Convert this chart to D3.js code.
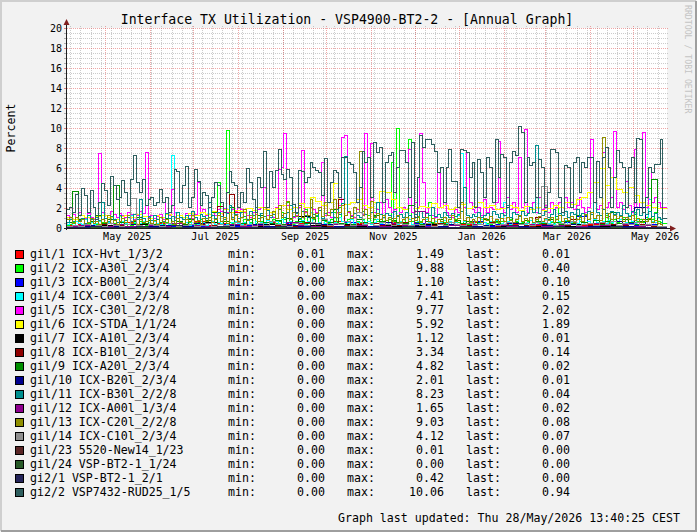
<!DOCTYPE html>
<html>
<head>
<meta charset="utf-8">
<script src="https://cdn.jsdelivr.net/npm/d3@7"></script>
<style>
body { margin: 0; background: #f2f2f2; }
text { font-family: "DejaVu Sans Mono", monospace; }
</style>
</head>
<body>
<svg width="697" height="532"></svg>
<script>
// interface names, legend order (drawn in this order, last on top)
let names = [
	"gil/1 ICX-Hvt_1/3/2", "gil/2 ICX-A30l_2/3/4", "gil/3 ICX-B00l_2/3/4",
	"gil/4 ICX-C00l_2/3/4", "gil/5 ICX-C30l_2/2/8", "gil/6 ICX-STDA_1/1/24",
	"gil/7 ICX-A10l_2/3/4", "gil/8 ICX-B10l_2/3/4", "gil/9 ICX-A20l_2/3/4",
	"gil/10 ICX-B20l_2/3/4", "gil/11 ICX-B30l_2/2/8", "gil/12 ICX-A00l_1/3/4",
	"gil/13 ICX-C20l_2/2/8", "gil/14 ICX-C10l_2/3/4", "gil/23 5520-New14_1/23",
	"gil/24 VSP-BT2-1_1/24", "gi2/1 VSP-BT2-1_2/1", "gi2/2 VSP7432-RUD25_1/5"
];
let colors = ["#ff0000", "#00ff00", "#0000ff", "#00ffff", "#ff00ff", "#ffff00",
	"#000000", "#8f0000", "#008f00", "#00008f", "#008f8f", "#8f008f",
	"#8f8f00", "#8f8f8f", "#5a2626", "#285a28", "#24245a", "#2e5e5e"];

// legend statistics as printed
let mins = [0.01, 0.00, 0.00, 0.00, 0.00, 0.00, 0.00, 0.00, 0.00, 0.00, 0.00, 0.00, 0.00, 0.00, 0.00, 0.00, 0.00, 0.00];
let maxs = [1.49, 9.88, 1.10, 7.41, 9.77, 5.92, 1.12, 3.34, 4.82, 2.01, 8.23, 1.65, 9.03, 4.12, 0.01, 0.00, 0.42, 10.06];
let lasts = [0.01, 0.40, 0.10, 0.15, 2.02, 1.89, 0.01, 0.14, 0.02, 0.01, 0.04, 0.02, 0.08, 0.07, 0.00, 0.00, 0.00, 0.94];

// consolidation step (days per value) of each series
let steps = [8, 2, 8, 2, 2, 4, 8, 4, 4, 8, 2, 8, 2, 4, 8, 8, 8, 2];

// percent values
let gi1_1 = [0.2,0.3,0.1,0.4,0.2,0.5,0.3,0.2,0.4,0.1, 0.3,0.6,0.2,0.4,1.49,0.3,0.2,0.5,0.3,0.1,
	0.4,0.2,0.3,0.6,0.2,0.4,0.1,0.3,0.5,0.2, 0.3,0.1,0.4,0.2,0.3,0.5,0.2,0.1,0.3,0.4,
	0.2,0.3,0.1,0.5,0.2,0.3,0.4,0.2,0.1,0.3, 0.2,0.01];
let gi1_2 = [0.2,0.3,0.5,0.2,0.1,0.3,0.2,0.4,0.2,0.1, 0.3,0.2,0.5,0.3,0.2,0.1,0.4,0.2,0.3,0.2,
	0.1,0.3,0.2,0.4,0.2,0.6,0.3,0.2,0.1,0.3, 0.2,0.4,0.2,0.3,0.5,0.2,0.3,0.1,0.2,0.4,
	0.3,0.2,0.5,0.2,0.3,0.2,0.8,0.3,0.2,0.4, 0.5,0.8,4.5,0.6,0.3,9.7,0.5,0.4,0.3,0.6,
	0.4,0.8,0.3,0.5,1.2,0.4,0.3,0.6,0.5,0.3, 0.5,0.8,0.4,0.6,1.5,0.8,2.5,0.5,0.3,0.6,
	0.8,0.5,1.8,0.6,0.4,0.8,1.2,0.5,0.3,0.6, 0.4,0.8,1.5,0.5,2.0,0.6,0.4,0.8,0.5,0.3,
	0.6,0.5,0.8,0.4,1.2,0.5,0.8,0.6,0.4,1.0, 0.5,0.8,6.5,0.6,9.88,0.5,0.8,0.4,8.8,0.6,
	0.5,1.0,0.6,0.4,0.8,2.5,0.5,0.6,0.3,0.8, 0.5,0.4,0.6,0.3,0.8,0.5,0.4,0.6,0.3,0.5,
	0.4,0.6,0.3,0.8,0.5,0.4,0.3,0.6,0.5,0.4, 0.6,0.3,0.5,0.8,0.4,0.6,0.3,0.5,0.4,0.6,
	0.3,0.5,0.8,0.4,0.6,0.3,1.0,0.5,0.4,2.0, 0.5,0.4,0.6,0.3,0.8,0.5,0.4,0.6,0.3,0.5,
	0.6,0.4,0.8,0.5,0.3,0.6,1.2,0.5,0.4,0.8, 0.5,0.6,1.0,0.4,0.8,0.5,1.5,0.6,0.8,0.5,
	1.0,3.9,0.8,1.5,0.6,0.5,0.40,0.40];
let gi1_3 = [0.1,0.0,0.2,0.1,0.0,0.3,0.1,0.2,0.0,0.1, 0.2,0.1,0.0,0.3,0.1,0.2,0.1,0.0,0.2,0.4,
	0.1,0.2,0.3,0.1,0.5,0.2,0.1,0.3,0.2,0.1, 0.4,0.2,0.1,0.3,0.2,0.6,0.1,0.3,0.2,0.4,
	0.1,0.3,0.2,0.5,1.10,0.2,0.3,0.1,0.4,0.2, 0.3,0.10];
let gi1_4 = [0.3,0.5,0.2,0.6,0.4,0.3,0.8,0.2,0.5,0.3, 0.4,0.6,0.3,0.2,0.5,0.4,0.8,0.3,0.2,0.6,
	0.4,0.3,1.2,0.5,0.2,0.4,0.6,0.3,0.5,0.2, 0.6,0.4,0.3,0.5,0.8,0.3,7.2,1.5,0.4,0.6,
	0.3,0.5,0.2,0.8,0.4,0.3,0.6,0.5,0.2,0.4, 0.6,0.3,0.5,0.4,0.8,0.3,0.2,0.5,0.6,0.4,
	0.3,0.5,0.8,0.4,0.2,0.6,0.3,0.5,0.4,0.7, 0.5,0.3,0.6,0.4,0.8,0.5,0.3,0.6,0.4,0.2,
	0.5,0.7,0.3,0.6,1.5,0.4,0.3,0.5,0.8,0.4, 0.6,0.3,0.5,0.4,1.0,0.6,0.3,0.5,0.8,0.4,
	0.5,0.3,0.7,0.4,0.6,0.3,0.5,0.8,0.4,0.6, 0.3,0.5,0.4,0.7,0.3,0.6,0.5,0.4,0.8,0.3,
	0.5,0.6,0.4,0.3,0.8,0.5,0.4,0.6,0.3,0.5, 0.7,0.4,0.6,0.3,0.5,1.2,7.41,0.6,0.4,0.5,
	0.3,0.6,0.4,0.8,0.5,0.3,0.6,0.4,0.7,0.5, 0.4,2.5,0.6,0.3,0.5,0.8,0.4,0.6,0.3,0.5,
	0.7,0.4,0.6,0.3,0.5,0.8,0.4,0.6,0.3,0.5, 0.6,0.4,0.7,0.3,0.5,0.6,0.4,0.8,0.3,0.5,
	0.6,0.4,0.8,0.5,0.3,0.6,0.4,0.7,0.5,0.3, 0.6,0.8,0.4,0.5,1.2,0.6,0.4,0.8,0.5,0.6,
	0.8,2.8,0.6,0.5,0.4,0.3,0.15,0.15];
let gi1_5 = [1.2,1.0,1.3,0.8,1.5,1.2,0.9,1.4,1.0,0.8, 1.2,7.4,1.5,1.2,1.0,1.6,1.3,1.0,1.4,1.2,
	1.0,1.5,1.3,0.8,1.2,1.6,1.4,7.5,1.0,1.2, 0.9,1.1,1.3,0.8,3.0,1.2,3.8,1.0,1.5,1.2,
	1.0,1.4,1.2,0.9,1.3,4.5,1.5,1.8,1.2,1.0, 1.5,1.2,1.8,1.6,1.9,1.5,2.0,1.8,1.6,2.0,
	1.8,1.5,1.2,1.0,1.5,1.3,1.8,2.0,4.0,1.2, 1.5,1.0,2.0,5.8,6.0,9.4,2.2,1.8,1.0,1.2,
	2.0,7.7,1.5,1.2,1.0,1.8,1.5,2.0,6.5,1.2, 1.5,1.0,1.8,1.5,2.2,9.0,9.2,1.5,1.2,1.0,
	1.8,1.5,1.3,9.4,2.0,8.4,1.5,1.8,2.5,1.2, 2.8,2.0,1.5,1.8,1.2,1.5,2.0,1.8,7.8,1.5,
	2.5,2.0,9.4,4.5,1.5,2.0,1.2,1.0,5.5,2.0, 2.5,1.5,1.2,1.0,1.8,1.5,2.5,2.0,7.5,2.5,
	1.8,1.5,2.0,1.2,2.8,1.5,2.0,1.8,2.5,8.6, 2.0,1.5,3.0,1.8,2.5,1.5,7.0,2.0,9.77,1.5,
	2.0,2.5,1.5,3.0,1.8,2.2,1.5,2.5,1.8,2.0, 2.5,1.5,3.0,2.0,2.5,1.8,2.2,3.0,2.0,1.5,
	2.0,8.8,2.5,1.8,2.2,7.5,2.0,2.5,3.0,9.6, 2.0,2.5,1.8,4.6,2.2,1.5,7.8,2.0,2.5,9.5,
	2.0,6.0,2.5,3.0,2.5,2.0,2.02,2.02];
let gi1_6 = [1.0,0.8,1.2,1.0,0.9,1.1,1.2,1.0,0.8,1.1, 1.2,1.0,1.3,1.1,0.9,1.2,1.0,1.3,1.1,1.2,
	1.0,1.4,1.2,1.5,1.3,1.6,1.4,1.8,1.5,1.7, 1.6,1.9,1.7,2.0,1.8,1.5,1.9,2.2,1.8,2.0,
	2.4,2.0,3.0,2.6,2.2,2.5,4.4,2.8,2.3,2.5, 2.8,2.2,2.0,2.5,3.6,3.5,2.8,2.0,1.8,2.2,
	1.9,2.1,2.0,2.4,2.0,2.2,1.8,2.0,2.3,1.9, 2.1,2.5,2.0,2.2,1.8,1.9,2.2,2.0,1.7,2.1,
	1.8,2.0,1.7,1.9,2.2,2.0,2.5,2.3,2.8,3.0, 3.5,4.5,5.92,4.2,5.0,3.8,3.5,4.0,3.2,2.5,
	2.2,2.0,1.89,1.89];
let gi1_7 = [0.0,0.1,0.0,0.2,0.1,0.0,0.3,0.1,0.0,0.2, 0.1,0.0,0.5,0.1,0.2,0.0,0.1,0.3,0.0,0.1,
	1.12,0.2,0.1,0.0,0.3,0.1,0.0,0.2,0.1,0.0, 0.1,0.3,0.0,0.2,0.1,0.0,0.2,0.1,0.4,0.0,
	0.1,0.2,0.0,0.1,0.3,0.0,0.1,0.2,0.0,0.1, 0.0,0.01];
let gi1_8 = [0.1,0.0,0.2,0.1,0.0,0.1,0.3,0.1,0.0,0.2, 0.1,0.0,0.2,0.1,0.3,0.0,0.1,0.2,0.0,0.1,
	0.2,0.1,0.0,0.3,0.1,0.2,2.1,0.1,3.34,0.2, 0.1,0.3,0.0,0.2,0.1,0.4,0.2,0.1,0.3,0.1,
	0.2,0.5,0.1,0.3,0.2,0.1,0.4,2.8,0.2,0.1, 0.3,0.2,0.1,0.4,0.2,0.1,0.3,0.2,0.5,0.1,
	0.2,0.3,0.1,0.2,0.4,0.1,0.2,0.3,0.1,0.2, 0.3,0.1,0.2,0.5,0.1,0.3,0.2,0.1,0.4,0.2,
	0.1,1.0,0.3,0.2,0.1,0.4,0.2,0.8,0.1,0.3, 0.2,0.1,0.4,0.2,0.3,0.1,0.2,0.5,0.1,0.3,
	0.2,0.1,0.14,0.14];
let gi1_9 = [0.5,3.6,0.8,0.3,0.6,1.2,0.4,0.8,4.2,0.5, 0.3,0.6,1.0,0.4,0.7,0.3,0.5,0.9,0.4,0.6,
	0.3,0.8,0.5,0.4,0.7,1.5,0.3,0.6,2.0,0.5, 0.4,0.8,0.3,1.2,0.5,0.4,0.7,0.3,0.9,0.5,
	0.6,0.4,1.0,0.3,0.7,0.5,1.8,0.4,0.6,0.3, 0.8,0.5,0.4,1.2,0.6,0.3,0.7,0.5,0.4,2.2,
	0.5,0.3,0.6,0.4,0.8,0.3,0.5,0.7,0.4,0.6, 0.3,0.5,0.8,0.4,0.6,0.3,1.0,0.5,0.4,0.7,
	0.3,0.6,0.4,0.8,0.5,0.3,0.6,0.4,1.2,0.5, 0.4,0.7,0.3,0.6,1.5,0.4,0.8,0.5,0.3,0.6,
	0.8,4.82,0.02,0.02];
let gi1_10 = [0.0,0.1,0.2,0.0,0.1,0.3,0.0,0.1,0.2,0.0, 0.1,0.4,0.0,0.1,0.2,0.0,0.3,0.1,0.0,0.2,
	0.1,0.0,0.3,0.1,0.0,0.2,0.1,0.5,0.0,0.1, 0.2,0.0,0.1,0.3,0.0,0.1,0.2,0.0,0.4,0.1,
	0.0,0.2,0.1,0.3,0.0,0.1,0.2,0.6,0.1,2.01, 0.2,0.01];
let gi1_11 = [0.5,0.8,0.6,1.0,0.7,0.9,0.4,1.2,0.8,0.6, 1.0,0.7,2.5,0.9,0.6,1.1,0.8,0.5,1.2,0.9,
	0.7,1.0,0.6,1.3,0.8,2.8,0.9,0.6,1.1,0.7, 1.2,0.8,1.0,0.6,1.4,0.9,1.1,0.7,1.5,1.0,
	0.8,1.2,0.9,1.6,1.0,0.7,1.3,1.1,0.9,2.5, 1.2,0.9,1.5,1.1,0.8,1.4,2.2,1.0,1.3,0.9,
	1.5,1.1,0.8,1.6,1.2,2.0,0.9,1.4,1.1,1.7, 1.0,1.3,0.9,1.8,1.2,1.0,1.5,2.2,1.1,1.4,
	0.9,1.6,1.2,1.0,2.0,1.3,1.1,1.7,0.9,1.4, 1.2,1.5,1.0,1.8,1.3,2.4,7.1,1.6,1.1,1.4,
	1.2,1.0,1.6,1.3,0.9,1.5,1.1,2.5,1.3,1.0, 1.4,1.2,0.9,1.6,1.1,1.3,1.0,1.5,1.2,0.9,
	1.3,1.1,1.6,1.0,1.4,1.2,2.0,1.1,1.3,1.0, 1.5,1.2,1.0,1.4,1.1,1.3,1.6,4.0,1.2,1.0,
	1.3,1.1,1.5,1.0,1.2,1.4,1.1,1.6,1.3,1.0, 1.4,1.2,2.2,1.0,1.5,1.3,1.1,1.6,1.2,1.4,
	2.0,1.5,8.23,1.4,1.2,1.6,1.0,1.3,1.8,1.1, 1.4,1.2,1.6,1.0,1.5,1.3,1.8,1.1,1.4,1.2,
	1.6,1.3,2.5,1.5,1.2,1.8,1.4,1.1,1.6,1.3, 1.5,1.2,2.2,1.4,1.1,1.6,1.3,1.8,1.2,1.5,
	1.3,1.6,1.1,1.4,1.0,0.8,0.04,0.04];
let gi1_12 = [0.1,0.2,0.0,0.1,0.3,0.1,0.0,0.2,0.1,0.4, 0.0,0.2,0.1,0.0,0.3,0.1,0.2,0.0,0.1,0.5,
	0.2,0.1,0.0,0.3,0.1,0.2,0.0,0.1,0.4,0.2, 1.65,0.1,0.0,0.2,0.1,0.3,0.0,0.2,0.1,0.0,
	0.3,0.1,0.2,0.0,0.1,0.4,0.2,0.1,0.3,0.1, 0.2,0.02];
let gi1_13 = [0.8,1.0,0.4,1.0,0.6,0.8,0.3,0.5,0.9,0.4, 0.6,0.3,0.8,0.5,1.2,0.4,0.7,0.3,0.6,0.9,
	0.5,1.2,0.4,0.7,0.3,0.8,0.5,0.6,0.9,0.4, 0.7,0.3,1.0,0.5,0.8,0.4,0.6,0.3,0.9,0.5,
	0.4,0.8,0.6,1.2,0.5,0.7,0.3,0.9,0.6,1.0, 0.5,0.8,1.2,0.6,1.0,0.4,1.5,0.8,1.2,0.6,
	1.0,1.8,0.7,1.2,0.9,1.5,0.6,1.0,2.0,0.8, 1.2,1.6,0.9,2.2,1.0,1.4,2.6,0.8,1.5,1.1,
	2.2,1.0,1.6,1.2,2.8,0.9,1.4,2.0,1.1,2.5, 1.2,1.8,2.8,1.0,1.5,2.2,1.2,1.6,0.9,2.0,
	1.5,7.6,1.2,1.8,0.9,2.6,1.0,1.4,0.8,1.2, 0.7,1.0,0.6,0.9,1.2,0.5,0.8,1.0,0.6,0.9,
	0.7,1.1,0.5,0.8,1.0,0.6,0.9,0.4,0.8,0.6, 1.0,0.5,0.8,1.2,0.6,0.9,2.5,0.7,1.0,0.5,
	0.8,0.6,1.0,0.5,0.9,0.7,1.1,0.6,0.8,0.5, 0.9,0.6,1.0,0.7,0.5,0.8,1.2,0.6,0.9,0.7,
	1.0,0.5,0.8,1.1,0.6,0.9,0.7,1.0,0.5,0.8, 1.2,0.6,0.9,0.7,1.1,0.5,0.8,1.0,0.6,1.3,
	0.8,1.5,0.9,1.2,0.7,9.03,1.0,1.4,0.8,1.2, 0.9,1.1,0.6,1.0,0.8,1.2,0.7,0.9,0.5,0.8,
	0.6,0.9,0.5,0.7,0.4,0.3,0.08,0.08];
let gi1_14 = [0.1,0.2,0.1,0.3,0.1,0.2,0.1,0.4,0.2,0.1, 0.3,2.9,0.2,0.1,0.3,0.2,0.1,0.4,0.2,0.1,
	0.2,0.3,0.1,0.2,0.4,0.1,0.3,0.2,0.1,0.5, 0.2,0.3,0.1,0.4,0.2,0.6,0.3,0.2,0.1,0.4,
	0.3,0.2,0.5,0.3,0.8,0.2,0.4,0.3,0.6,0.2, 1.5,0.3,0.4,0.2,0.5,0.3,0.2,0.4,0.3,0.2,
	0.3,0.2,0.4,0.1,0.3,0.2,0.5,0.3,0.2,0.4, 0.2,0.3,0.1,0.4,0.2,0.3,0.5,0.2,0.3,0.4,
	0.2,0.5,4.12,0.3,0.2,0.4,0.3,0.6,0.2,0.3, 0.4,0.2,0.5,0.3,0.6,0.2,0.4,0.3,0.5,0.2,
	0.3,0.2,0.07,0.07];
let gi1_23 = [0.00,0.00,0.01,0.00,0.00,0.00,0.00,0.01,0.00,0.00, 0.00,0.00,0.00,0.00,0.01,0.00,0.00,0.00,0.00,0.00,
	0.00,0.01,0.00,0.00,0.00,0.00,0.00,0.00,0.01,0.00, 0.00,0.00,0.00,0.00,0.00,0.01,0.00,0.00,0.00,0.00,
	0.00,0.00,0.01,0.00,0.00,0.00,0.00,0.00,0.00,0.00, 0.00,0.00];
let gi1_24 = [0,0,0,0,0,0,0,0,0,0, 0,0,0,0,0,0,0,0,0,0, 0,0,0,0,0,0,0,0,0,0,
	0,0,0,0,0,0,0,0,0,0, 0,0,0,0,0,0,0,0,0,0, 0,0];
let gi2_1 = [0.0,0.0,0.1,0.0,0.0,0.0,0.1,0.0,0.0,0.2, 0.0,0.0,0.0,0.1,0.0,0.0,0.0,0.0,0.1,0.0,
	0.0,0.42,0.0,0.0,0.1,0.0,0.0,0.0,0.0,0.1, 0.0,0.0,0.0,0.0,0.1,0.0,0.0,0.0,0.2,0.0,
	0.0,0.0,0.1,0.0,0.0,0.0,0.0,0.1,0.0,0.0, 0.0,0.0];
let gi2_2 = [1.8,2.0,1.5,3.3,1.2,3.9,3.2,1.5,3.7,2.0, 0.8,2.5,4.4,3.7,2.2,5.1,4.2,2.8,3.0,4.7,
	3.5,2.2,4.8,7.2,4.5,3.5,4.8,2.2,2.8,3.0, 2.2,2.5,3.8,2.5,3.0,1.5,2.2,5.8,5.6,2.5,
	4.2,6.1,2.0,3.0,5.8,4.6,2.2,3.5,3.2,2.0, 3.0,4.5,4.2,2.5,1.5,3.5,5.6,4.5,4.2,2.0,
	3.5,2.5,5.9,4.5,2.8,1.5,5.0,4.0,7.6,2.0, 5.6,4.0,5.7,7.8,5.3,4.8,5.8,5.0,2.3,1.5,
	5.7,5.6,4.5,5.0,6.5,6.0,5.7,5.5,3.2,6.9, 2.5,4.5,5.7,5.5,3.0,7.0,7.0,6.5,6.3,5.5,
	2.5,4.0,7.6,6.5,7.0,3.0,8.5,7.5,8.0,2.5, 6.5,7.2,7.5,3.5,6.0,7.7,7.7,6.5,3.0,8.5,
	1.0,5.0,9.2,8.0,8.8,8.8,8.3,7.6,5.5,6.0, 2.5,6.0,7.8,4.6,4.6,2.0,7.8,7.7,7.5,5.0,
	6.5,2.0,6.8,5.5,3.0,7.0,6.0,2.5,8.8,5.0, 7.3,7.0,2.0,6.5,7.6,7.2,10.06,9.5,2.5,7.0,
	6.2,6.5,3.0,6.8,6.0,2.0,3.5,7.8,7.8,7.5, 3.0,1.5,6.2,6.0,2.0,6.5,7.0,3.5,6.5,6.0,
	7.0,7.0,2.5,6.6,3.0,7.0,8.0,6.0,2.0,5.0, 7.7,6.5,6.0,2.0,6.0,7.0,2.5,8.9,8.8,1.5,
	3.0,6.0,5.5,6.3,6.3,8.8,0.94,0.94];

let series = [gi1_1, gi1_2, gi1_3, gi1_4, gi1_5, gi1_6, gi1_7, gi1_8, gi1_9,
	gi1_10, gi1_11, gi1_12, gi1_13, gi1_14, gi1_23, gi1_24, gi2_1, gi2_2];

let yTicks = [0, 2, 4, 6, 8, 10, 12, 14, 16, 18, 20];

let svg = d3.select("svg");
let width = 697, height = 532;
let margin = {top: 28, right: 30, bottom: 304, left: 67};
let plotRight = width - margin.right, plotBottom = height - margin.bottom;

let start = new Date(2025, 3, 4, 17, 30), end = new Date(2026, 4, 24, 12, 0);

let x = d3.scaleTime()
	.domain([start, end])
	.range([margin.left, plotRight]);

let y = d3.scaleLinear()
	.domain([0, 20])
	.range([plotBottom, margin.top]);

// frame
svg.append("rect").attr("width", width).attr("height", height).attr("fill", "#f2f2f2");
svg.append("path").attr("d", `M1,${height - 1}V1H${width - 1}`)
	.attr("fill", "none").attr("stroke", "#cfcfcf").attr("stroke-width", 2);
svg.append("path").attr("d", `M1,${height - 1}H${width - 1}V1`)
	.attr("fill", "none").attr("stroke", "#9e9e9e").attr("stroke-width", 2);
svg.append("rect")
	.attr("x", margin.left).attr("y", margin.top)
	.attr("width", plotRight - margin.left).attr("height", plotBottom - margin.top)
	.attr("fill", "#fff");

// grid
let grid = svg.append("g").attr("shape-rendering", "crispEdges").attr("stroke-dasharray", "1,1");
let minorY = d3.range(0, 20.01, 0.5).filter(v => v % 2 != 0);
grid.selectAll(".gy").data(minorY).enter().append("line")
	.attr("x1", margin.left).attr("x2", plotRight + 2)
	.attr("y1", d => Math.round(y(d)) + 0.5).attr("y2", d => Math.round(y(d)) + 0.5)
	.attr("stroke", "rgba(143,143,143,0.45)");
grid.selectAll(".gx").data(d3.timeMonday.range(start, end)).enter().append("line")
	.attr("x1", d => Math.round(x(d)) + 0.5).attr("x2", d => Math.round(x(d)) + 0.5)
	.attr("y1", margin.top - 2).attr("y2", plotBottom)
	.attr("stroke", "rgba(143,143,143,0.45)");
grid.selectAll(".my").data(yTicks.slice(1)).enter().append("line")
	.attr("x1", margin.left).attr("x2", plotRight + 2)
	.attr("y1", d => Math.round(y(d)) + 0.5).attr("y2", d => Math.round(y(d)) + 0.5)
	.attr("stroke", "rgba(222,79,79,0.5)");
grid.selectAll(".mx").data(d3.timeMonth.range(start, end)).enter().append("line")
	.attr("x1", d => Math.round(x(d)) + 0.5).attr("x2", d => Math.round(x(d)) + 0.5)
	.attr("y1", margin.top - 2).attr("y2", plotBottom)
	.attr("stroke", "rgba(222,79,79,0.5)");

// small ticks left of the value axis
svg.append("g").attr("shape-rendering", "crispEdges")
	.selectAll("line").data(d3.range(0, 20.01, 0.5)).enter().append("line")
	.attr("x1", margin.left - 3).attr("x2", margin.left)
	.attr("y1", d => Math.round(y(d)) + 0.5).attr("y2", d => Math.round(y(d)) + 0.5)
	.attr("stroke", d => d % 2 == 0 ? "rgba(222,79,79,0.7)" : "rgba(143,143,143,0.7)");

// data lines
svg.append("clipPath").attr("id", "plot").append("rect")
	.attr("x", margin.left).attr("y", margin.top - 1)
	.attr("width", plotRight - margin.left).attr("height", plotBottom - margin.top + 1);

let line = d3.line()
	.curve(d3.curveStepAfter)
	.x(d => x(d.t))
	.y(d => Math.round(y(d.v)) - 0.5);

let points = (vals, step) => {
	let pts = vals.map((v, i) => ({t: new Date(+start + i * step * 864e5), v: v}));
	pts.push({t: end, v: vals[vals.length - 1]});
	return pts;
};

svg.append("g")
	.attr("clip-path", "url(#plot)")
	.attr("shape-rendering", "crispEdges")
	.selectAll("path").data(series).enter().append("path")
	.attr("fill", "none")
	.attr("stroke", (d, i) => colors[i])
	.attr("stroke-width", 1)
	.attr("d", (d, i) => line(points(d, steps[i])));

// axes
let axisCol = "#1f1f1f", arrowCol = "#801f1f";
svg.append("line")
	.attr("x1", margin.left - 0.5).attr("x2", margin.left - 0.5)
	.attr("y1", plotBottom + 2).attr("y2", margin.top - 4)
	.attr("stroke", axisCol);
svg.append("line")
	.attr("x1", margin.left - 3).attr("x2", plotRight + 4)
	.attr("y1", plotBottom + 0.5).attr("y2", plotBottom + 0.5)
	.attr("stroke", axisCol);
svg.append("path")
	.attr("d", `M${margin.left - 3.5},${margin.top - 3}L${margin.left - 0.5},${margin.top - 9}L${margin.left + 2.5},${margin.top - 3}Z`)
	.attr("fill", arrowCol);
svg.append("path")
	.attr("d", `M${plotRight + 3},${plotBottom - 2.5}L${plotRight + 9},${plotBottom + 0.5}L${plotRight + 3},${plotBottom + 3.5}Z`)
	.attr("fill", arrowCol);

let labelMonths = d3.timeMonth.every(2).range(start, end).map(m => d3.timeDay.offset(m, 15));

let xAxis = g => g
	.attr("transform", `translate(0,${plotBottom})`)
	.call(d3.axisBottom(x)
		.tickValues(labelMonths)
		.tickFormat(d3.timeFormat("%b %Y"))
		.tickSize(0)
		.tickPadding(5))
	.call(g => g.select(".domain").remove());

let yAxis = g => g
	.attr("transform", `translate(${margin.left},0)`)
	.call(d3.axisLeft(y)
		.tickValues(yTicks)
		.tickFormat(d3.format("d"))
		.tickSize(0)
		.tickPadding(5))
	.call(g => g.select(".domain").remove());

svg.append("g").call(xAxis)
	.attr("font-family", "DejaVu Sans Mono").attr("font-size", 10);
svg.append("g").call(yAxis)
	.attr("font-family", "DejaVu Sans Mono").attr("font-size", 10);
svg.selectAll(".tick text").attr("fill", "#000");

// titles
svg.append("text")
	.attr("x", 347).attr("y", 23.5)
	.attr("text-anchor", "middle").attr("font-size", 13.2)
	.text("Interface TX Utilization - VSP4900-BT2-2 - [Annual Graph]");
svg.append("text")
	.attr("transform", `translate(14.5,${(margin.top + plotBottom) / 2}) rotate(-90)`)
	.attr("text-anchor", "middle").attr("font-size", 11.6)
	.text("Percent");
svg.append("text")
	.attr("transform", "translate(685,5) rotate(90)")
	.attr("font-size", 8.2).attr("fill", "#c4c4c4")
	.text("RRDTOOL / TOBI OETIKER");

// legend
let fmt = d3.format(".2f");
let legend = svg.append("g").attr("font-size", 11.6);
let rows = legend.selectAll("g").data(names).enter().append("g")
	.attr("transform", (d, i) => `translate(0,${254 + i * 14})`);
rows.append("rect")
	.attr("x", 15.5).attr("y", -3.5).attr("width", 8).attr("height", 8)
	.attr("fill", (d, i) => colors[i]).attr("stroke", "#000")
	.attr("shape-rendering", "crispEdges");
rows.append("text").attr("x", 30).attr("y", 4).text(d => d);
rows.append("text").attr("x", 228).attr("y", 4).text("min:");
rows.append("text").attr("x", 325).attr("y", 4).attr("text-anchor", "end").text((d, i) => fmt(mins[i]));
rows.append("text").attr("x", 347).attr("y", 4).text("max:");
rows.append("text").attr("x", 444).attr("y", 4).attr("text-anchor", "end").text((d, i) => fmt(maxs[i]));
rows.append("text").attr("x", 466).attr("y", 4).text("last:");
rows.append("text").attr("x", 570).attr("y", 4).attr("text-anchor", "end").text((d, i) => fmt(lasts[i]));

svg.append("text")
	.attr("x", 680).attr("y", 522)
	.attr("text-anchor", "end").attr("font-size", 11.6)
	.text("Graph last updated: Thu 28/May/2026 13:40:25 CEST");
</script>
</body>
</html>
